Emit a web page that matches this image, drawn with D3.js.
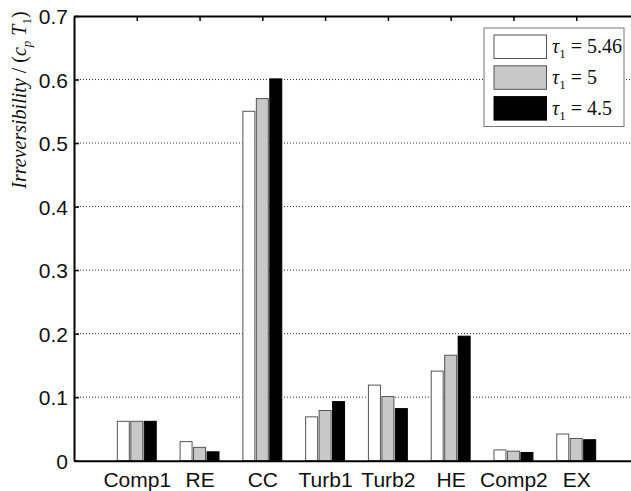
<!DOCTYPE html>
<html>
<head>
<meta charset="utf-8">
<script src="https://cdn.jsdelivr.net/npm/d3@7"></script>
<style>
  body { margin: 0; background: #fff; }
  svg { display: block; }
</style>
</head>
<body>
<svg id="chart"></svg>
<script>
// data
const categories = ['Comp1', 'RE', 'CC', 'Turb1', 'Turb2', 'HE', 'Comp2', 'EX'];
const seriesNames = ['5.46', '5', '4.5'];
const tau546 = [0.062, 0.030, 0.550, 0.069, 0.119, 0.141, 0.017, 0.042];
const tau5   = [0.062, 0.021, 0.570, 0.079, 0.101, 0.166, 0.015, 0.035];
const tau45  = [0.062, 0.014, 0.601, 0.093, 0.082, 0.196, 0.013, 0.033];
const yTicks = [0, 0.1, 0.2, 0.3, 0.4, 0.5, 0.6, 0.7];
const fills = ['#ffffff', '#c8c8c8', '#000000'];

const W = 631, H = 491;
const margin = {left: 74, top: 16};
const plotW = 565;          // axis runs past the right edge (cropped like the original)
const plotH = 444.7;

const svg = d3.select('#chart').attr('width', W).attr('height', H);
const chart = svg.append('g').attr('transform', `translate(${margin.left}, ${margin.top})`);

const xscale = d3.scaleLinear().domain([0, categories.length + 1]).range([0, plotW]);
const yscale = d3.scaleLinear().domain([0, 0.7]).range([plotH, 0]);
const sub = d3.scaleBand().domain(seriesNames).range([-0.31, 0.31]).paddingInner(0.11);

// grid
chart.append('g')
    .selectAll('line')
    .data(yTicks.filter(d => d > 0 && d < 0.7))
    .join('line')
    .attr('x1', 0).attr('x2', plotW)
    .attr('y1', d => yscale(d)).attr('y2', d => yscale(d))
    .attr('stroke', '#333')
    .attr('stroke-width', 1)
    .attr('stroke-dasharray', '1,2');

// bars
const table = categories.map((c, i) => ({cat: c, idx: i + 1, vals: [tau546[i], tau5[i], tau45[i]]}));

chart.append('g')
    .selectAll('g')
    .data(table)
    .join('g')
    .selectAll('rect')
    .data(d => d.vals.map((v, j) => ({idx: d.idx, key: seriesNames[j], v: v, j: j})))
    .join('rect')
    .attr('x', d => xscale(d.idx + sub(d.key)))
    .attr('width', d => xscale(sub.bandwidth()) - xscale(0))
    .attr('y', d => yscale(d.v))
    .attr('height', d => yscale(0) - yscale(d.v))
    .attr('fill', d => fills[d.j])
    .attr('stroke', d => d.j === 2 ? '#000' : '#555')
    .attr('stroke-width', 1);

// axes
const xaxis = d3.axisBottom(xscale)
    .tickValues(d3.range(1, categories.length + 1))
    .tickFormat(d => categories[d - 1])
    .tickSizeInner(-5).tickSizeOuter(0).tickPadding(11);
const xaxisTop = d3.axisTop(xscale)
    .tickValues(d3.range(1, categories.length + 1))
    .tickFormat('')
    .tickSizeInner(-5).tickSizeOuter(0);
const yaxis = d3.axisLeft(yscale)
    .tickValues(yTicks)
    .tickFormat(d => d === 0 ? '0' : d3.format('.1f')(d))
    .tickSizeInner(-5).tickSizeOuter(0).tickPadding(6);

const xg = chart.append('g').attr('transform', `translate(0, ${plotH})`).call(xaxis);
const xtg = chart.append('g').call(xaxisTop);
const yg = chart.append('g').call(yaxis);

[xg, xtg, yg].forEach(g => {
    g.select('.domain').attr('stroke', '#000').attr('stroke-width', 2);
    g.selectAll('.tick line').attr('stroke', '#000').attr('stroke-width', 1.5);
    g.selectAll('.tick text')
        .attr('fill', '#111')
        .style('font-family', '"Liberation Sans", Arial, sans-serif')
        .style('font-size', '21px');
});
// middle tick marks on the bottom axis are hidden behind bars
xg.selectAll('.tick line').remove();
yg.selectAll('.tick text').attr('dy', '0.36em');

// y label
const ylab = svg.append('text')
    .attr('transform', 'translate(26, 100) rotate(-90)')
    .attr('text-anchor', 'middle')
    .style('font-family', '"Liberation Serif", "Times New Roman", serif')
    .style('font-size', '20px')
    .attr('fill', '#111');
ylab.append('tspan').style('font-style', 'italic').text('Irreversibility');
ylab.append('tspan').text(' / (');
ylab.append('tspan').style('font-style', 'italic').text('c');
ylab.append('tspan').attr('dy', 5).style('font-size', '13px').style('font-style', 'italic').text('p');
ylab.append('tspan').attr('dy', -5).style('font-style', 'italic').text(' T');
ylab.append('tspan').attr('dy', 5).style('font-size', '13px').text('1');
ylab.append('tspan').attr('dy', -5).text(')');

// legend
const legend = svg.append('g').attr('transform', 'translate(484, 28)');
legend.append('rect')
    .attr('width', 140).attr('height', 98.5)
    .attr('fill', '#fff').attr('stroke', '#777').attr('stroke-width', 1);
const item = legend.selectAll('g.item')
    .data(seriesNames)
    .join('g')
    .attr('class', 'item')
    .attr('transform', (d, i) => `translate(10, ${7 + i * 30.8})`);
item.append('rect')
    .attr('width', 52.5).attr('height', 23.5)
    .attr('fill', (d, i) => fills[i])
    .attr('stroke', (d, i) => i === 2 ? '#000' : '#555');
const lt = item.append('text')
    .attr('x', 58).attr('y', 18)
    .style('font-family', '"Liberation Serif", "Times New Roman", serif')
    .style('font-size', '20px')
    .attr('fill', '#111');
lt.append('tspan').style('font-style', 'italic').text('τ');
lt.append('tspan').attr('dy', 5).style('font-size', '13px').text('1');
lt.append('tspan').attr('dy', -5).text(d => ' = ' + d);
</script>
</body>
</html>
